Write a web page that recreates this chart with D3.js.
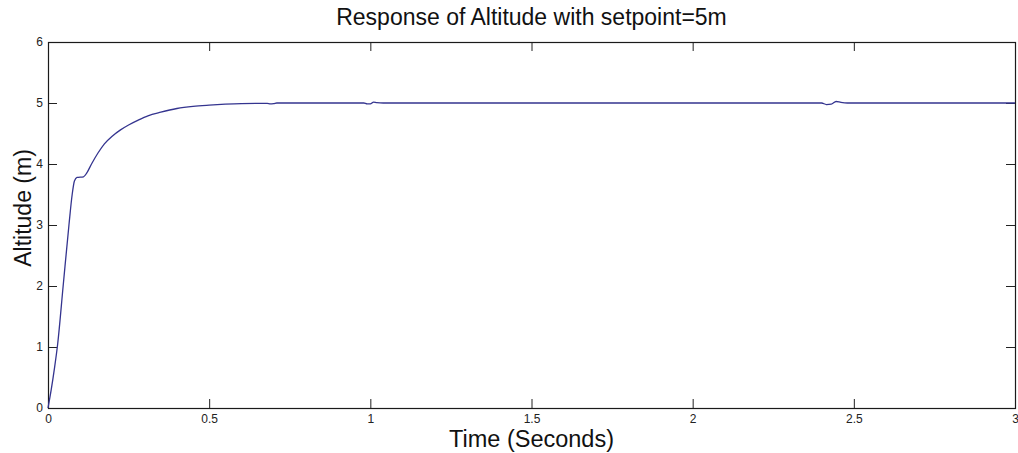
<!DOCTYPE html>
<html>
<head>
<meta charset="utf-8">
<script src="https://cdn.jsdelivr.net/npm/d3@7"></script>
<style>
  body { margin: 0; background: #ffffff; }
  svg { display: block; font-family: "Liberation Sans", Arial, sans-serif; }
</style>
</head>
<body>
<div id="chart"></div>
<script>
const timeValues = [
  0, 0.01, 0.02, 0.03, 0.047, 0.065, 0.075, 0.082, 0.09, 0.11, 0.12, 0.135,
  0.155, 0.175, 0.2, 0.225, 0.25, 0.28, 0.31, 0.35, 0.4, 0.45, 0.5, 0.55,
  0.6, 0.68, 0.69, 0.7, 0.71, 0.75, 0.98, 0.99, 1.0, 1.01, 1.02, 1.04,
  2.4, 2.415, 2.43, 2.445, 2.46, 2.48, 3.0
];
const altitudeValues = [
  0, 0.3, 0.65, 1.05, 2.0, 3.0, 3.5, 3.72, 3.78, 3.79, 3.85, 4.0,
  4.18, 4.33, 4.46, 4.56, 4.64, 4.72, 4.79, 4.85, 4.91, 4.945, 4.965, 4.98,
  4.99, 4.995, 4.985, 4.99, 5.0, 5.0, 5.0, 4.985, 4.985, 5.015, 5.005, 5.0,
  5.0, 4.975, 4.98, 5.025, 5.01, 5.0, 5.0
];
const xTicks = [0, 0.5, 1, 1.5, 2, 2.5, 3];
const yTicks = [0, 1, 2, 3, 4, 5, 6];

const width = 1018;
const height = 453;
const margin = { top: 42, right: 3, bottom: 45, left: 48 };
const innerWidth = width - margin.left - margin.right;
const innerHeight = height - margin.top - margin.bottom;
const tickLen = 9;

const points = timeValues.map((t, i) => ({ t, alt: altitudeValues[i] }));

const x = d3.scaleLinear().domain([0, 3]).range([0, innerWidth]);
const y = d3.scaleLinear().domain([0, 6]).range([innerHeight, 0]);

const svg = d3.select("#chart").append("svg")
  .attr("width", width)
  .attr("height", height);

const chart = svg.append("g").attr("transform", `translate(${margin.left},${margin.top})`);

// axes: ticks point inward, MATLAB style, on all four sides
const styleAxis = (axis) => {
  axis.select(".domain").remove();
  axis.selectAll("line").attr("stroke", "#222").attr("stroke-width", 1);
  axis.selectAll("text").attr("fill", "#222").attr("font-size", 12)
    .attr("font-family", "'Liberation Sans', Arial, sans-serif");
};
const ticksOnly = (axis) => {
  styleAxis(axis);
  axis.selectAll("text").remove();
};

chart.append("g")
  .attr("transform", `translate(0,${innerHeight})`)
  .call(d3.axisBottom(x).tickValues(xTicks).tickSize(-tickLen).tickPadding(6).tickFormat(d3.format("")))
  .call(styleAxis);

chart.append("g")
  .call(d3.axisTop(x).tickValues(xTicks).tickSize(-tickLen))
  .call(ticksOnly);

chart.append("g")
  .call(d3.axisLeft(y).tickValues(yTicks).tickSize(-tickLen).tickPadding(5).tickFormat(d3.format("")))
  .call(styleAxis);

chart.append("g")
  .attr("transform", `translate(${innerWidth},0)`)
  .call(d3.axisRight(y).tickValues(yTicks).tickSize(-tickLen))
  .call(ticksOnly);

chart.append("rect")
  .attr("x", 0.5)
  .attr("y", 0.5)
  .attr("width", innerWidth)
  .attr("height", innerHeight)
  .attr("fill", "none")
  .attr("stroke", "#1a1a1a")
  .attr("stroke-width", 1.2);

const line = d3.line()
  .x((d) => x(d.t))
  .y((d) => y(d.alt))
  .curve(d3.curveMonotoneX);

chart.append("path")
  .datum(points)
  .attr("fill", "none")
  .attr("stroke", "#34348f")
  .attr("stroke-width", 1.3)
  .attr("stroke-linejoin", "round")
  .attr("d", line);

svg.append("text")
  .attr("x", margin.left + innerWidth / 2)
  .attr("y", 25)
  .attr("text-anchor", "middle")
  .attr("font-size", 23)
  .attr("fill", "#111")
  .text("Response of Altitude with setpoint=5m");

svg.append("text")
  .attr("x", margin.left + innerWidth / 2)
  .attr("y", 447)
  .attr("text-anchor", "middle")
  .attr("font-size", 23.5)
  .attr("fill", "#111")
  .text("Time (Seconds)");

svg.append("text")
  .attr("transform", `translate(31 208) rotate(-90)`)
  .attr("text-anchor", "middle")
  .attr("font-size", 23)
  .attr("fill", "#111")
  .text("Altitude (m)");
</script>
</body>
</html>
